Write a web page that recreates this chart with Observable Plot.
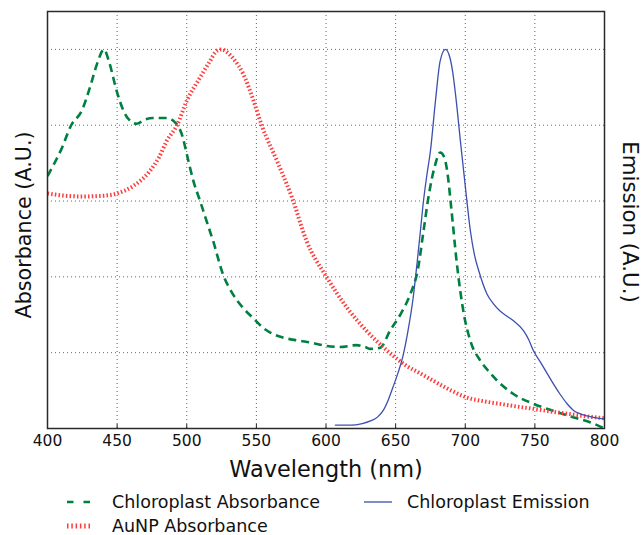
<!DOCTYPE html>
<html><head><meta charset="utf-8">
<script src="https://cdn.jsdelivr.net/npm/d3@7"></script>
<script src="https://cdn.jsdelivr.net/npm/@observablehq/plot@0.6"></script>
<style>
body{margin:0;background:#fff;font-family:"DejaVu Sans",sans-serif;}
#wrap{position:relative;width:642px;height:535px;overflow:hidden;}
#legend{position:absolute;left:0;top:490px;width:642px;height:45px;}
.sw{position:absolute;}
.lt{position:absolute;font-size:17.5px;color:#111;line-height:14px;white-space:nowrap;}
</style></head><body>
<div id="wrap"><div id="chart"></div><div id="legend"></div></div>
<script>
const xTicks = [400, 450, 500, 550, 600, 650, 700, 750, 800];
const gridXTicks = [450, 500, 550, 600, 650, 700, 750];
const gridYTicks = [0.2, 0.4, 0.6, 0.8, 1.0];
const xLabel = "Wavelength (nm)";
const yLabelLeft = "Absorbance (A.U.)";
const yLabelRight = "Emission (A.U.)";
const seriesNames = ["Chloroplast Absorbance", "AuNP Absorbance", "Chloroplast Emission"];

const chlAbsNm = [400,405,410,417,424.6,430.5,435.4,440.6,444,449.7,455,458,464,470,476,485.7,492.7,497,500,505,509.6,514,519,526,533,540,548,555,560,569,580,590,600,610,622,628,632,639,646,653.6,660.6,666,670,674,678,682,685,687,690,694,699,703.7,711,717,723,734.6,749,763,778,790,800];
const chlAbsVal = [0.666,0.70,0.737,0.80,0.838,0.90,0.96,1.0,0.97,0.89,0.835,0.817,0.804,0.815,0.819,0.819,0.803,0.77,0.724,0.65,0.60,0.55,0.494,0.407,0.355,0.32,0.29,0.265,0.253,0.24,0.232,0.226,0.218,0.215,0.22,0.215,0.21,0.213,0.258,0.302,0.355,0.42,0.52,0.62,0.69,0.728,0.715,0.68,0.58,0.434,0.302,0.231,0.178,0.15,0.126,0.091,0.065,0.047,0.029,0.016,0.0];

const aunpNm = [400,410,425,440,450,461.7,473.7,480,485.7,493,500,509.6,516,521.6,525,528,533.6,540.6,548,554,564.8,575.6,586,600.7,615,629,644,658,667.8,677,690,701,713,725,737,749,761,773,785,797,800];
const aunpVal = [0.62,0.615,0.612,0.614,0.62,0.64,0.68,0.715,0.759,0.80,0.864,0.926,0.965,0.996,1.0,0.995,0.975,0.935,0.864,0.798,0.706,0.609,0.495,0.398,0.319,0.258,0.205,0.165,0.145,0.126,0.10,0.082,0.072,0.065,0.058,0.052,0.045,0.039,0.033,0.028,0.027];

const emisNm = [606.7,617.5,626,632,637,641,645,648,652,655,659,662.6,665.5,667.8,670,672.5,675,678.6,682,685.8,689,691,693,696.5,700,703.7,706.5,709.7,715.6,720,725,730,734.6,741.8,745.5,749,754,759,768,773,778,783,787.5,794,800];
const emisVal = [0.009,0.009,0.013,0.02,0.03,0.047,0.078,0.108,0.15,0.187,0.26,0.345,0.44,0.521,0.60,0.67,0.732,0.864,0.97,1.0,0.978,0.94,0.882,0.759,0.64,0.521,0.46,0.416,0.355,0.33,0.31,0.296,0.284,0.258,0.235,0.205,0.175,0.144,0.091,0.066,0.047,0.038,0.033,0.028,0.025];

const colors = ["#008040", "#ff3b3b", "#3a4fb0"];

const toRows = (xs, ys) => xs.map((x, i) => ({nm: x, v: ys[i]}));
const chlAbs = toRows(chlAbsNm, chlAbsVal);
const aunp = toRows(aunpNm, aunpVal);
const emis = toRows(emisNm, emisVal);

const chart = Plot.plot({
  width: 642, height: 490,
  marginLeft: 47, marginRight: 38, marginTop: 11, marginBottom: 62,
  style: {fontFamily: "DejaVu Sans", background: "#fff", color: "#111"},
  x: {domain: [400, 800], axis: null},
  y: {domain: [0, 1.1], axis: null},
  marks: [
    Plot.gridX(gridXTicks, {stroke: "#666", strokeOpacity: 1, strokeDasharray: "1,3"}),
    Plot.gridY(gridYTicks, {stroke: "#666", strokeOpacity: 1, strokeDasharray: "1,3"}),
    Plot.tickX(gridXTicks, {x: d => d, insetTop: 413, stroke: "#222", strokeWidth: 1}),
    Plot.line(chlAbs, {x: "nm", y: "v", stroke: colors[0], strokeWidth: 2.6, strokeDasharray: "8,5", strokeLinecap: "butt", curve: "monotone-x", clip: true}),
    Plot.line(aunp, {x: "nm", y: "v", stroke: colors[1], strokeWidth: 4, strokeDasharray: "1.5,2.2", strokeLinecap: "butt", curve: "monotone-x", clip: true}),
    Plot.line(emis, {x: "nm", y: "v", stroke: colors[2], strokeWidth: 1.3, curve: "monotone-x", clip: true}),
    Plot.frame({stroke: "#2a2a2a", strokeWidth: 1.5}),
    Plot.axisX(xTicks, {tickSize: 0, tickPadding: 6.5, fontSize: 15.5, label: null}),
    Plot.text([xLabel], {text: d => d, frameAnchor: "bottom", textAnchor: "middle", dy: 48.5, fontSize: 22.4}),
    Plot.text([yLabelLeft], {text: d => d, frameAnchor: "left", textAnchor: "middle", dx: -23, dy: 5, rotate: -90, fontSize: 20.7}),
    Plot.text([yLabelRight], {text: d => d, frameAnchor: "right", textAnchor: "middle", dx: 25, dy: 2, rotate: 90, fontSize: 21.3})
  ]
});
document.getElementById("chart").appendChild(chart);

// legend (below the plot)
const legend = document.getElementById("legend");
const items = [
  {name: seriesNames[0], color: colors[0], dash: "6.5,10", w: 2.6, sx: 67, sl: 24, tx: 112, row: 0},
  {name: seriesNames[1], color: colors[1], dash: "1.5,2.8", w: 5, sx: 67, sl: 24, tx: 112, row: 1},
  {name: seriesNames[2], color: colors[2], dash: null, w: 1.3, sx: 364, sl: 28, tx: 407, row: 0}
];
const rowY = [12, 36];
for (const it of items) {
  const ns = "http://www.w3.org/2000/svg";
  const svg = document.createElementNS(ns, "svg");
  svg.setAttribute("width", it.sl); svg.setAttribute("height", 10);
  svg.setAttribute("class", "sw");
  svg.style.left = it.sx + "px"; svg.style.top = (rowY[it.row] - 5) + "px";
  const ln = document.createElementNS(ns, "line");
  ln.setAttribute("x1", 0); ln.setAttribute("x2", it.sl);
  ln.setAttribute("y1", 5); ln.setAttribute("y2", 5);
  ln.setAttribute("stroke", it.color); ln.setAttribute("stroke-width", it.w);
  if (it.dash) ln.setAttribute("stroke-dasharray", it.dash);
  svg.appendChild(ln);
  legend.appendChild(svg);
  const t = document.createElement("span");
  t.className = "lt"; t.textContent = it.name;
  t.style.left = it.tx + "px"; t.style.top = (rowY[it.row] - 7) + "px";
  legend.appendChild(t);
}
</script>
</body></html>
